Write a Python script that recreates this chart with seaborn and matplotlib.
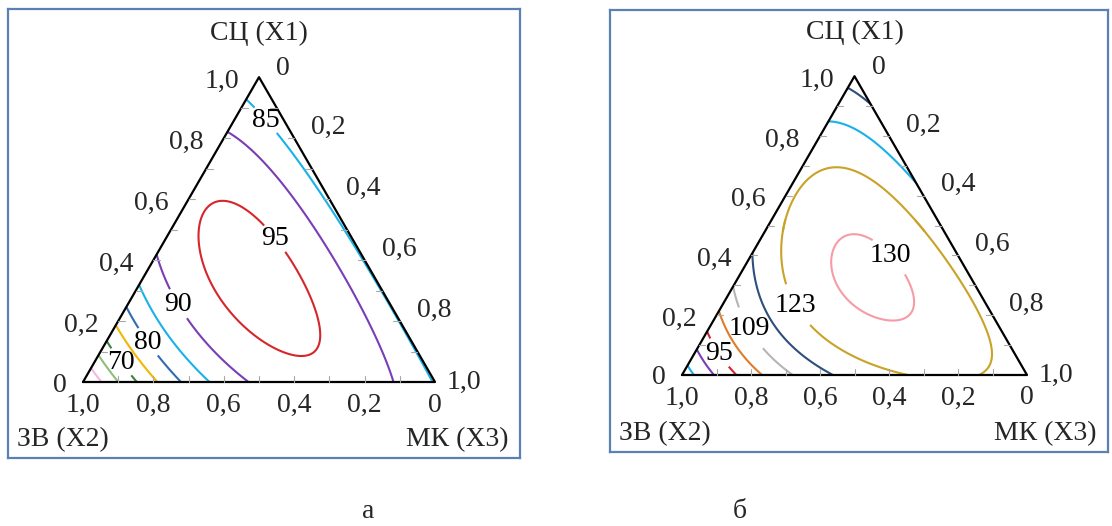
import numpy as np
import matplotlib
matplotlib.use("Agg")
import matplotlib.pyplot as plt
import matplotlib.tri as mtri
import seaborn as sns

# Points read on the contour lines of panel a: x1 (СЦ), x2 (ЗВ), response. x3 = 1 - x1 - x2
a_x1 = [0.04, 0.084, 0.146, 0.185, 0.247, 0.32, 0.406, 0.82, 0.916,
        0, 0, 0, 0, 0, 0, 0, 0,
        1.0, 0.75, 0.5, 0.25, 0,
        0.614, 0.484, 0.081, 0.201, 0.542, 0.386, 0.35,
        0.698, 0.429, 0.195, 0.549, 0.808, 0.159, 0.097]
a_x2 = [0.96, 0.916, 0.854, 0.815, 0.753, 0.68, 0.594, 0.18, 0.084,
        0.943, 0.903, 0.844, 0.787, 0.724, 0.645, 0.531, 0.125,
        0, 0, 0, 0, 0,
        0.312, 0.434, 0.352, 0.241, 0.235, 0.205, 0.31,
        0.128, 0.075, 0.605, 0.015, 0.045, 0.673, 0.747]
a_val = [60, 65, 70, 75, 80, 85, 90, 90, 85,
         60, 65, 70, 75, 80, 85, 90, 90,
         81, 83.5, 84.3, 84.7, 84.8,
         95, 95, 95, 95, 95, 95, 96.5,
         90, 90, 90, 85, 85, 85, 80]

# Same for panel b
b_x1 = [0.043, 0.076, 0.14, 0.20, 0.30, 0.42, 0.854, 0.963,
        0, 0, 0, 0, 0, 0, 0, 0,
        0.884, 0.55, 0.3, 0.1, 0,
        0.691, 0.472, 0.282, 0.073, 0.14, 0.472, 0.671,
        0.458, 0.359, 0.176, 0.272, 0.32,
        0.748, 0.15, 0.14]
b_x2 = [0.957, 0.924, 0.86, 0.80, 0.70, 0.58, 0.146, 0.037,
        0.962, 0.91, 0.85, 0.754, 0.68, 0.565, 0.333, 0.174,
        0, 0, 0, 0, 0,
        0.226, 0.471, 0.537, 0.526, 0.066, 0.036, 0.082,
        0.275, 0.383, 0.347, 0.221, 0.30,
        0.043, 0.661, 0.704]
b_val = [81, 88, 95, 102, 109, 116, 116, 109,
         81, 88, 95, 102, 109, 116, 123, 123,
         109, 116, 121, 121, 120,
         123, 123, 123, 123, 123, 123, 123,
         130, 130, 130, 130, 131.5,
         116, 116, 109]

a_levels = [60, 65, 70, 75, 80, 85, 90, 95]
a_colors = ["#f4b6e4", "#8dc07a", "#3f7f3f", "#f2b705", "#2f6db3", "#19b2e8", "#7a3db8", "#d6262b"]
b_levels = [81, 88, 95, 102, 109, 116, 123, 130]
b_colors = ["#19b2e8", "#7a3db8", "#d6262b", "#e07b28", "#b5b5b5", "#2e4e7e", "#c9a227", "#f59ca6"]
# upper part of panel b has its own line colours
b_top_colors = ["#19b2e8", "#7a3db8", "#d6262b", "#e07b28", "#2e4e7e", "#19b2e8", "#c9a227", "#f59ca6"]

ticks = [0.2, 0.4, 0.6, 0.8, 1.0]
S = np.sqrt(3) / 2


def terms(x1, x2, x3):
    # full cubic Scheffe model
    return np.stack([x1, x2, x3, x1 * x2, x1 * x3, x2 * x3,
                     x1 * x2 * (x1 - x2), x1 * x3 * (x1 - x3), x2 * x3 * (x2 - x3),
                     x1 * x2 * x3], axis=-1)


def fit(x1, x2, v):
    x1 = np.array(x1, float)
    x2 = np.array(x2, float)
    A = terms(x1, x2, 1 - x1 - x2)
    c, *_ = np.linalg.lstsq(A, np.array(v, float), rcond=None)
    return c


n = 200
ii, jj = np.meshgrid(np.arange(n + 1), np.arange(n + 1))
keep = ii + jj <= n
g1 = ii[keep] / n
g3 = jj[keep] / n
g2 = np.clip(1 - g1 - g3, 0, 1)
tri = mtri.Triangulation(g3 + g1 / 2, g1 * S)

sns.set_theme(style="white")
plt.rcParams["font.family"] = ["Liberation Serif", "DejaVu Serif"]

fig = plt.figure(figsize=(11.12, 5.26), dpi=100)
FS = 20


def fmt(v):
    return f"{v:.1f}".replace(".", ",") if v > 0 else "0"


def panel(box, tri_px, coef, levels, colors, labels, top_colors=None):
    # box: left, top, right, bottom in pixels; tri_px: x of left vertex, x of right vertex, y of base
    l, t, r, b = box
    x0, x1p, yb = tri_px
    unit = x1p - x0
    ax = fig.add_axes([l / 1112, (526 - b) / 526, (r - l) / 1112, (b - t) / 526])
    ax.set_xlim((l - x0) / unit, (r - x0) / unit)
    ax.set_ylim((yb - b) / unit, (yb - t) / unit)
    ax.set_xticks([])
    ax.set_yticks([])
    for sp in ax.spines.values():
        sp.set_color("#5b80b4")
        sp.set_linewidth(1.6)

    z = terms(g1, g2, g3) @ coef
    if top_colors is None:
        cs = ax.tricontour(tri, z, levels=levels, colors=colors, linewidths=1.5)
    else:
        cx = g1[tri.triangles].mean(axis=1)
        t_low = mtri.Triangulation(tri.x, tri.y, tri.triangles, mask=cx > 0.52)
        t_top = mtri.Triangulation(tri.x, tri.y, tri.triangles, mask=cx < 0.48)
        cs = ax.tricontour(t_low, z, levels=levels, colors=colors, linewidths=1.5)
        ax.tricontour(t_top, z, levels=levels, colors=top_colors, linewidths=1.5)
    pos = [(p3 + p1 / 2, p1 * S) for p1, p3 in labels]
    txt = ax.clabel(cs, inline=True, manual=pos, fmt="%d", fontsize=FS, colors="black", inline_spacing=3)
    for tx in txt:
        tx.set_rotation(0)

    # triangle frame
    sns.lineplot(x=[0, 1, 0.5, 0], y=[0, 0, S, 0], sort=False, estimator=None,
                 color="black", linewidth=1.6, ax=ax)

    # small ticks every 0.1
    for v in np.arange(0.1, 1.0, 0.1):
        ax.plot([v / 2, v / 2 + 0.018], [v * S, v * S], color="#a8a8a8", lw=0.8)
        ax.plot([1 - v, 1 - v], [0, 0.018], color="#a8a8a8", lw=0.8)
        ax.plot([0.5 + v / 2, 0.5 + v / 2 - 0.018], [(1 - v) * S, (1 - v) * S], color="#a8a8a8", lw=0.8)

    off = 20 / unit
    # X1 on the left edge
    ax.text(-16 / unit, -3 / unit, "0", ha="right", va="center", fontsize=FS)
    for v in ticks:
        ax.text(v / 2 - off, v * S - 4 / unit, fmt(v), ha="right", va="center", fontsize=FS)
    # X2 on the bottom edge
    for v in [0] + ticks:
        ax.text(1 - v, -23 / unit, fmt(v), ha="center", va="center", fontsize=FS)
    # X3 on the right edge
    ax.text(0.5 + 24 / unit, S + 9 / unit, "0", ha="center", va="center", fontsize=FS)
    for w in ticks:
        if w < 1:
            ax.text(0.5 + w / 2 + 17 / unit, (1 - w) * S + 11 / unit, fmt(w), ha="left", va="center", fontsize=FS)
        else:
            ax.text(1 + 12 / unit, 0, fmt(w), ha="left", va="center", fontsize=FS)

    ax.text(0.5, S + 44 / unit, "СЦ (X1)", ha="center", va="center", fontsize=FS)
    ax.text((l + 9 - x0) / unit, (yb - b + 18) / unit, "ЗВ (X2)", ha="left", va="center", fontsize=FS)
    ax.text((r - 11 - x0) / unit, (yb - b + 18) / unit, "МК (X3)", ha="right", va="center", fontsize=FS)
    return ax


ca = fit(a_x1, a_x2, a_val)
cb = fit(b_x1, b_x2, b_val)

# label spots (x1, x3)
a_lab = [(0.857, 0.089), (0.471, 0.310), (0.26, 0.146), (0.136, 0.122), (0.068, 0.077)]
b_lab = [(0.389, 0.40), (0.239, 0.222), (0.156, 0.119), (0.076, 0.072)]

panel((8, 9, 520, 458), (83, 435, 382), ca, a_levels, a_colors, a_lab)
panel((610, 10, 1108, 452), (682, 1027, 375), cb, b_levels, b_colors, b_lab, b_top_colors)

fig.text(368 / 1112, 1 - 512 / 526, "а", ha="center", va="center", fontsize=FS)
fig.text(740 / 1112, 1 - 512 / 526, "б", ha="center", va="center", fontsize=FS)

fig.savefig("out.png", dpi=100)
